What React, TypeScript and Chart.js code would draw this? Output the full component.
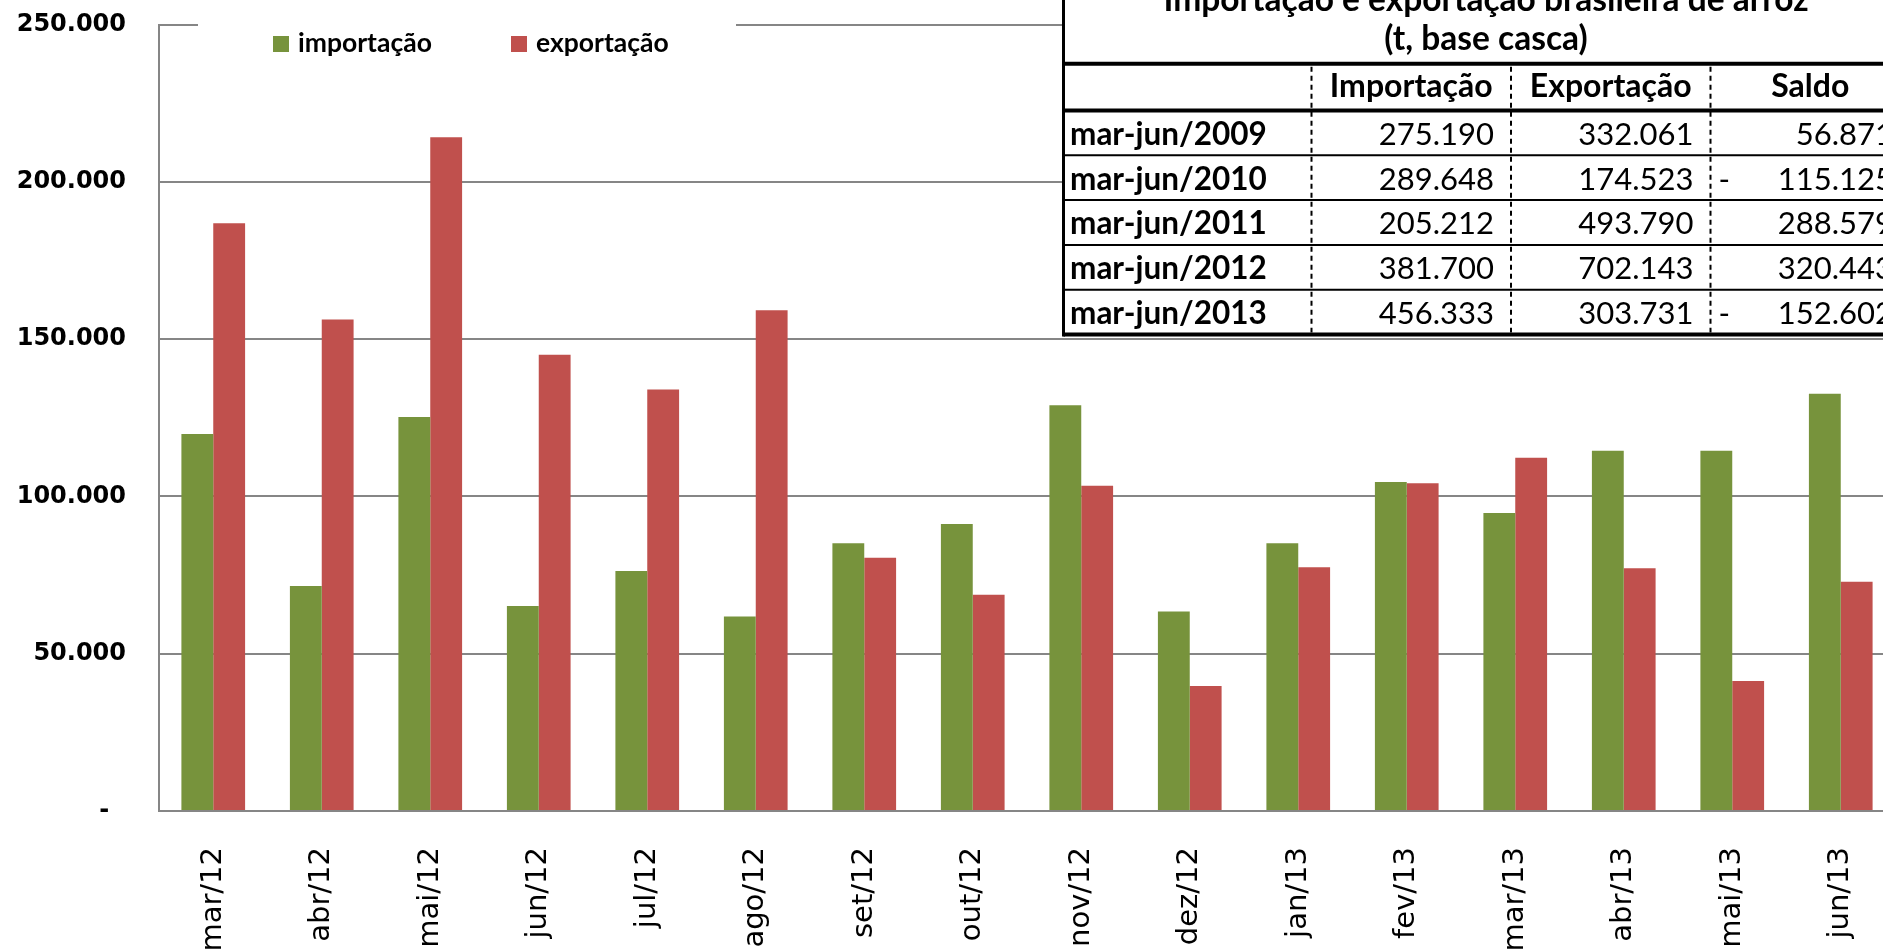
import React, { useEffect, useRef } from 'react';
import { Chart, registerables } from 'chart.js';

Chart.register(...registerables);

// ---------- data ----------
const categories = [
  'mar/12', 'abr/12', 'mai/12', 'jun/12', 'jul/12', 'ago/12', 'set/12', 'out/12',
  'nov/12', 'dez/12', 'jan/13', 'fev/13', 'mar/13', 'abr/13', 'mai/13', 'jun/13',
];
const importacao = [
  119800, 71500, 125200, 65200, 76300, 61800, 85100, 91200,
  129000, 63400, 85100, 104600, 94700, 114500, 114500, 132600,
];
const exportacao = [
  186800, 156200, 214200, 145000, 134000, 159200, 80500, 68700,
  103400, 39700, 77500, 104200, 112300, 77200, 41300, 72900,
];
const legendLabels = ['importação', 'exportação'];
const yMin = 0;
const yMax = 250000;
const yStep = 50000;

const tableTitle = ['Importação e exportação brasileira de arroz', '(t, base casca)'];
const tableHeaders = ['Importação', 'Exportação', 'Saldo'];
const tablePeriods = ['mar-jun/2009', 'mar-jun/2010', 'mar-jun/2011', 'mar-jun/2012', 'mar-jun/2013'];
const tableImport = [275190, 289648, 205212, 381700, 456333];
const tableExport = [332061, 174523, 493790, 702143, 303731];
const tableSaldo = [56871, -115125, 288579, 320443, -152602];

// ---------- styles ----------
const GREEN = '#77933C';
const RED = '#C0504D';
const GRID = '#868686';

function fmt(n: number): string {
  return Math.round(Math.abs(n)).toString().replace(/\B(?=(\d{3})+(?!\d))/g, '.');
}

const overlayPlugin = {
  id: 'overlay',
  afterDraw(chart: any) {
    const ctx: CanvasRenderingContext2D = chart.ctx;
    ctx.save();

    // ----- legend (white box over the top gridline) -----
    ctx.fillStyle = '#ffffff';
    ctx.fillRect(198, 8, 538, 56);
    const itemX = [273, 511];
    chart.data.datasets.forEach((ds: any, i: number) => {
      ctx.fillStyle = ds.backgroundColor;
      ctx.fillRect(itemX[i], 36, 16, 16);
      ctx.fillStyle = '#000';
      ctx.font = 'bold 26.5px Lato';
      ctx.textAlign = 'left';
      ctx.textBaseline = 'alphabetic';
      ctx.fillText(ds.label, itemX[i] + 25, 52);
    });

    // ----- table -----
    const cols = [1063.5, 1311.5, 1511, 1710.5, 1910];
    const titleTop = 63.7;
    const headBottom = 110.5;
    const rowH = 44.8;
    const bottom = headBottom + rowH * tablePeriods.length;

    ctx.fillStyle = '#ffffff';
    ctx.fillRect(cols[0], -20, cols[4] - cols[0], bottom + 20);

    ctx.strokeStyle = '#000';
    ctx.setLineDash([]);
    ctx.lineWidth = 3;
    ctx.beginPath();
    ctx.moveTo(cols[0], -20);
    ctx.lineTo(cols[0], bottom + 2);
    ctx.moveTo(cols[4], -20);
    ctx.lineTo(cols[4], bottom + 2);
    ctx.stroke();
    ctx.lineWidth = 4;
    ctx.beginPath();
    [titleTop, headBottom, bottom].forEach((y) => {
      ctx.moveTo(cols[0], y);
      ctx.lineTo(cols[4], y);
    });
    ctx.stroke();
    ctx.lineWidth = 2;
    ctx.beginPath();
    for (let i = 1; i < tablePeriods.length; i++) {
      const y = headBottom + rowH * i;
      ctx.moveTo(cols[0], y);
      ctx.lineTo(cols[4], y);
    }
    ctx.stroke();
    ctx.setLineDash([5, 4]);
    ctx.beginPath();
    for (let c = 1; c <= 3; c++) {
      ctx.moveTo(cols[c], titleTop + 3);
      ctx.lineTo(cols[c], bottom - 2);
    }
    ctx.stroke();
    ctx.setLineDash([]);

    ctx.fillStyle = '#000';
    ctx.textBaseline = 'alphabetic';
    ctx.font = 'bold 33.5px Lato';
    ctx.textAlign = 'center';
    const titleX = 1486;
    ctx.fillText(tableTitle[0], titleX, 11);
    ctx.fillText(tableTitle[1], titleX, 50);
    ctx.font = 'bold 32px Lato';
    tableHeaders.forEach((h, i) => {
      ctx.fillText(h, (cols[i + 1] + cols[i + 2]) / 2, 97);
    });
    tablePeriods.forEach((p, r) => {
      const base = headBottom + rowH * (r + 1) - 10.5;
      ctx.font = 'bold 31.5px Lato';
      ctx.textAlign = 'left';
      ctx.fillText(p, cols[0] + 6.5, base);
      ctx.font = '31px Lato';
      ctx.textAlign = 'right';
      ctx.fillText(fmt(tableImport[r]), cols[2] - 17, base);
      ctx.fillText(fmt(tableExport[r]), cols[3] - 17, base);
      ctx.fillText(fmt(tableSaldo[r]), cols[4] - 17, base);
      if (tableSaldo[r] < 0) {
        ctx.textAlign = 'left';
        ctx.fillText('-', cols[3] + 8, base);
      }
    });

    ctx.restore();
  },
};

export default function App() {
  const canvasRef = useRef<HTMLCanvasElement | null>(null);

  useEffect(() => {
    const canvas = canvasRef.current;
    if (!canvas) return;
    const chart = new Chart(canvas, {
      type: 'bar',
      data: {
        labels: categories,
        datasets: [
          {
            label: legendLabels[0],
            data: importacao,
            backgroundColor: GREEN,
            borderWidth: 0,
            categoryPercentage: 0.587,
            barPercentage: 1,
          },
          {
            label: legendLabels[1],
            data: exportacao,
            backgroundColor: RED,
            borderWidth: 0,
            categoryPercentage: 0.587,
            barPercentage: 1,
          },
        ],
      },
      options: {
        responsive: false,
        animation: false,
        devicePixelRatio: 1,
        layout: { padding: { top: 24.5, right: 25, left: 0, bottom: 0 } },
        plugins: {
          legend: { display: false },
          tooltip: { enabled: false },
        },
        scales: {
          x: {
            grid: { display: false, drawTicks: false },
            border: { display: true, color: GRID, width: 2 },
            ticks: {
              autoSkip: false,
              minRotation: 90,
              maxRotation: 90,
              padding: 36,
              color: '#000',
              font: { family: 'DejaVu Sans', size: 29 },
            },
            afterFit: (s: any) => {
              s.height = 141;
              s.paddingLeft = 0;
              s.paddingRight = 0;
            },
          },
          y: {
            min: yMin,
            max: yMax,
            grid: { color: GRID, lineWidth: 2, drawTicks: false },
            border: { display: true, color: GRID, width: 2 },
            ticks: {
              stepSize: yStep,
              padding: 33,
              color: '#000',
              font: { family: 'DejaVu Sans', size: 24, weight: 'bold' },
              callback: (v: any) => (Number(v) === 0 ? '-  ' : fmt(Number(v))),
            },
            afterFit: (s: any) => {
              s.width = 159;
              s.paddingTop = 0;
              s.paddingBottom = 0;
            },
          },
        },
      } as any,
      plugins: [overlayPlugin],
    });
    return () => chart.destroy();
  }, []);

  return (
    <div style={{ position: 'fixed', left: 0, top: 0, width: 1920, height: 952, background: '#fff', overflow: 'hidden' }}>
      <canvas ref={canvasRef} width={1920} height={952} style={{ display: 'block' }} />
    </div>
  );
}
